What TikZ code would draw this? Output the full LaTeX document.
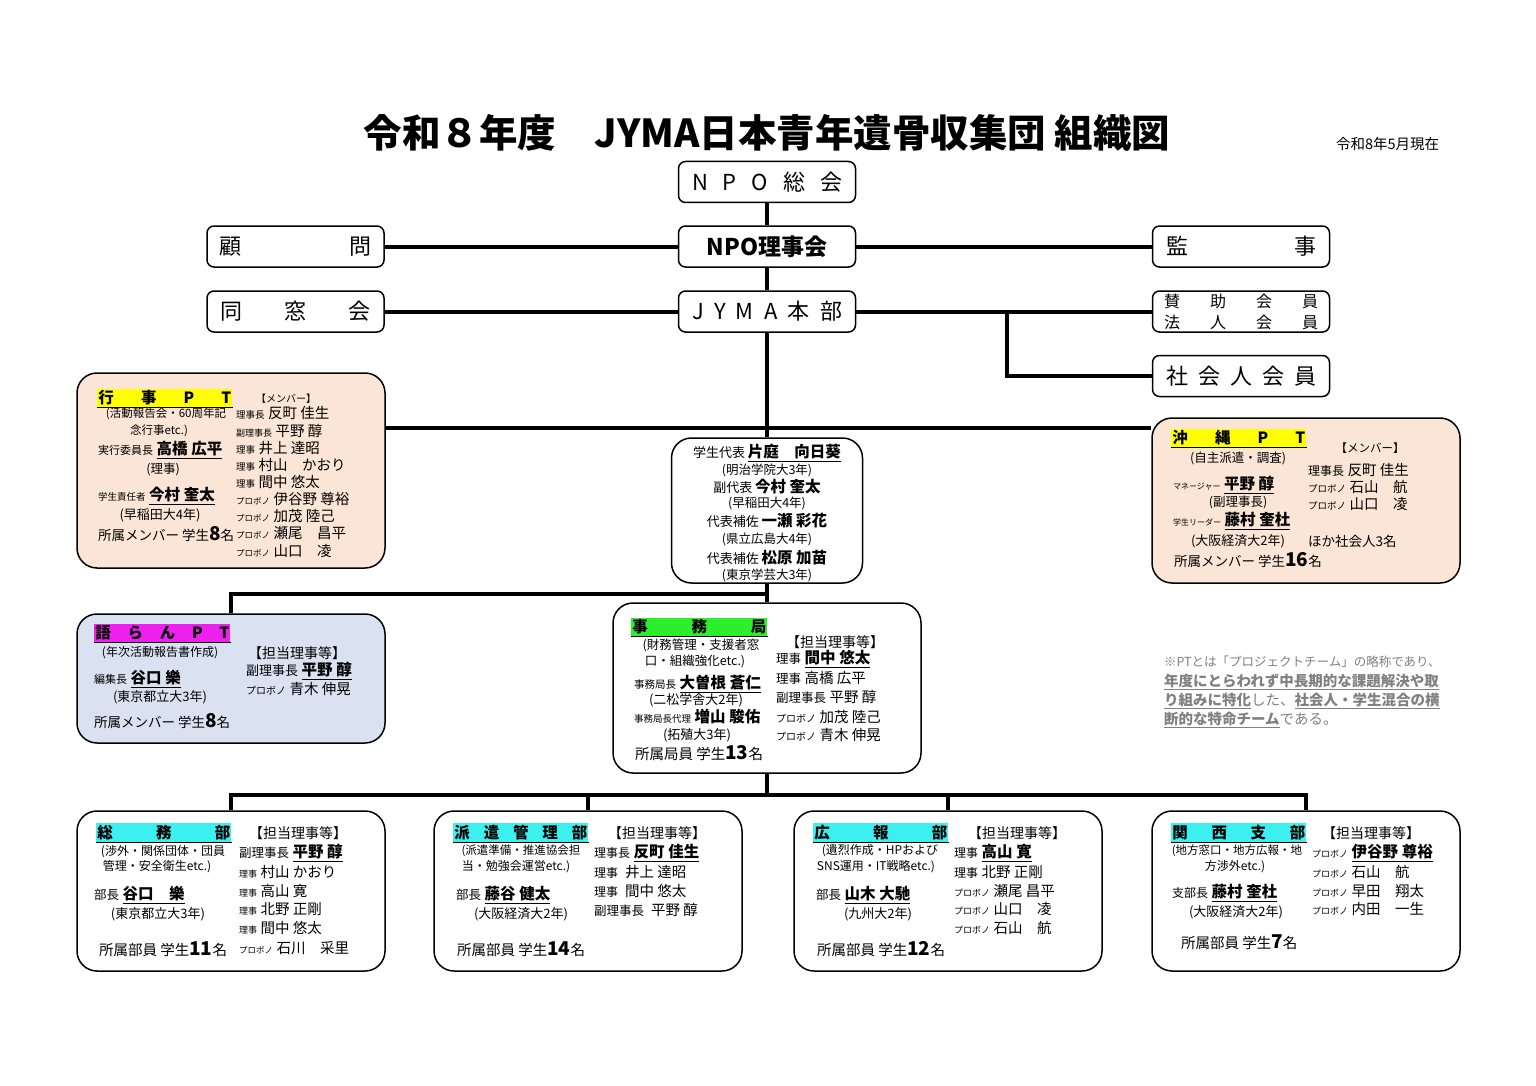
\documentclass[tikz,border=0pt]{standalone}
\usepackage{fontspec}
\setmainfont{Noto Sans CJK JP}

\definecolor{peach}{RGB}{251,229,214}
\definecolor{paleblue}{RGB}{218,225,241}
\definecolor{hlYellow}{RGB}{255,255,0}
\definecolor{hlMagenta}{RGB}{238,32,238}
\definecolor{hlGreen}{RGB}{45,238,45}
\definecolor{hlCyan}{RGB}{60,240,240}
\definecolor{noteGray}{RGB}{128,128,128}

\newcommand\roletxt[2][10]{{\fontsize{#1}{#1}\selectfont #2}}
\newcommand\pname[1]{{\fontsize{14.5}{15}\selectfont #1}}
\newcommand\lname[1]{{\fontsize{15.5}{16}\selectfont\bfseries\underline{#1}}}
\newcommand\bname[1]{{\fontsize{15.5}{16}\selectfont\bfseries #1}}
\newcommand\cntnum[1]{{\fontsize{19}{19}\selectfont\bfseries #1}}

\tikzset{every picture/.style={line width=0.75pt},
  topbox/.style={draw, fill=white, rounded corners=7, line width=1.5pt, minimum width=177, minimum height=41, inner sep=0pt, font=\fontsize{22}{22}\selectfont},
  bigbox/.style={draw, rounded corners=20, line width=1.5pt, inner sep=0pt},
  conn/.style={line width=4pt},
  hdr/.style={anchor=west, inner xsep=1pt, inner ysep=0pt, minimum height=19, font=\fontsize{15.5}{15.5}\selectfont\bfseries,
    append after command={(\tikzlastnode.south west) edge[draw, line width=1pt] (\tikzlastnode.south east)}},
  txt/.style={anchor=west, inner sep=0.75pt, font=\fontsize{16}{16}\selectfont},
  dsc/.style={inner sep=0.75pt, font=\fontsize{12.5}{13}\selectfont},
  cnt/.style={anchor=west, inner sep=0.75pt, font=\fontsize{14.5}{15}\selectfont},
  nte/.style={anchor=west, inner sep=0.75pt, text=noteGray, font=\fontsize{14.5}{15}\selectfont}}

\begin{document}
\begin{tikzpicture}[x=1pt,y=1pt,yscale=-1,xscale=1]
\useasboundingbox (0,0) rectangle (1536,1086);

% Title
\draw (767,133) node (title) [inner sep=0.75pt, font=\fontsize{38.5}{38.5}\selectfont\bfseries] {令和８年度　JYMA日本青年遺骨収集団 組織図};
\draw (1335,144) node (date) [txt, font=\fontsize{14.5}{15}\selectfont] {令和8年5月現在};

%Rounded Rect (top)
\draw (767,182) node (soukai) [topbox] {\hbox to 150pt{N\hfill P\hfill O\hfill 総\hfill 会}};
\draw (295.5,246.5) node (komon) [topbox] {\hbox to 152pt{顧\hfill 問}};
\draw (767,246.5) node (rijikai) [topbox, font=\fontsize{23}{23}\selectfont\bfseries] {NPO理事会};
\draw (1241,246.5) node (kanji) [topbox] {\hbox to 150pt{監\hfill 事}};
\draw (295.5,311.5) node (dousou) [topbox] {\hbox to 150pt{同\hfill 窓\hfill 会}};
\draw (767,311.5) node (honbu) [topbox] {\hbox to 150pt{J\hfill Y\hfill M\hfill A\hfill 本\hfill 部}};
\draw (1241,311.5) node (sanjo) [topbox, align=center, font=\fontsize{16}{21}\selectfont] {\hbox to 154pt{賛\hfill 助\hfill 会\hfill 員}\\\hbox to 154pt{法\hfill 人\hfill 会\hfill 員}};
\draw (1241,376) node (shakai) [topbox] {\hbox to 150pt{社\hfill 会\hfill 人\hfill 会\hfill 員}};

%Rounded Rect (groups)
\draw (231,470.5) node (gyoji) [bigbox, fill=peach, minimum width=308, minimum height=195] {};
\draw (767,510.5) node (gakusei) [bigbox, fill=white, minimum width=191, minimum height=145] {};
\draw (1306,500.5) node (okinawa) [bigbox, fill=peach, minimum width=308, minimum height=165] {};
\draw (231,678.5) node (kataran) [bigbox, fill=paleblue, minimum width=308, minimum height=129] {};
\draw (767,688) node (jimu) [bigbox, fill=white, minimum width=308, minimum height=170] {};
\draw (231,891) node (soumu) [bigbox, fill=white, minimum width=308, minimum height=160] {};
\draw (588,891) node (haken) [bigbox, fill=white, minimum width=308, minimum height=160] {};
\draw (948,891) node (kouhou) [bigbox, fill=white, minimum width=308, minimum height=160] {};
\draw (1306,891) node (kansai) [bigbox, fill=white, minimum width=308, minimum height=160] {};

\coordinate (jr) at (1007,311.5);
\coordinate (j1) at (767,428);
\coordinate (j2) at (767,594);
\coordinate (j3) at (767,795);

%Straight Lines
\draw[conn] (soukai) -- (rijikai);
\draw[conn] (rijikai) -- (honbu);
\draw[conn] (komon) -- (rijikai);
\draw[conn] (rijikai) -- (kanji);
\draw[conn] (dousou) -- (honbu);
\draw[conn] (honbu) -- (sanjo);
\draw[conn] (jr) |- (shakai);
\draw[conn] (honbu) -- (gakusei);
\draw[conn] (gyoji.east |- j1) -- (okinawa.west |- j1);
\draw[conn] (gakusei) -- (jimu);
\draw[conn] (j2) -| (kataran);
\draw[conn] (jimu) -- (j3);
\draw[conn] (j3) -| (soumu);
\draw[conn] (j3) -| (haken);
\draw[conn] (j3) -| (kouhou);
\draw[conn] (j3) -| (kansai);

% Text Node (gyoji PT)
\draw (97,398) node (gy-h) [hdr, fill=hlYellow] {\hbox to 133pt{行\hfill 事\hfill P\hfill T}};
\draw (166,414) node (gy-d1) [dsc, font=\fontsize{11.5}{12}\selectfont] {(活動報告会・60周年記};
\draw (159,431) node (gy-d2) [dsc, font=\fontsize{11.5}{12}\selectfont] {念行事etc.)};
\draw (97,450) node (gy-l1) [txt] {\roletxt[11]{実行委員長} \lname{高橋 広平}};
\draw (163,469) node (gy-d3) [dsc] {(理事)};
\draw (97,496) node (gy-l2) [txt] {\roletxt[9.5]{学生責任者} \lname{今村 奎太}};
\draw (160,515) node (gy-d4) [dsc, font=\fontsize{13}{13}\selectfont] {(早稲田大4年)};
\draw (97,534) node (gy-c) [cnt, font=\fontsize{13.5}{14}\selectfont] {所属メンバー 学生\cntnum{8}名};
\draw (286,399) node (gy-m) [dsc, font=\fontsize{10}{10}\selectfont] {【メンバー】};
\draw (235,413) node (gy-r1) [txt] {\roletxt[9.5]{理事長} \pname{反町 佳生}};
\draw (235,431) node (gy-r2) [txt] {\roletxt[9]{副理事長} \pname{平野 醇}};
\draw (235,448) node (gy-r3) [txt] {\roletxt[9.5]{理事} \pname{井上 達昭}};
\draw (235,465) node (gy-r4) [txt] {\roletxt[9.5]{理事} \pname{村山　かおり}};
\draw (235,482) node (gy-r5) [txt] {\roletxt[9.5]{理事} \pname{間中 悠太}};
\draw (235,499) node (gy-r6) [txt] {\roletxt[8.5]{プロボノ} \pname{伊谷野 尊裕}};
\draw (235,516) node (gy-r7) [txt] {\roletxt[8.5]{プロボノ} \pname{加茂 陸己}};
\draw (235,533) node (gy-r8) [txt] {\roletxt[8.5]{プロボノ} \pname{瀬尾　昌平}};
\draw (235,551) node (gy-r9) [txt] {\roletxt[8.5]{プロボノ} \pname{山口　凌}};

% Text Node (students)
\draw (767,453) node (st1) [dsc] {\roletxt[13]{学生代表} \lname{片庭　向日葵}};
\draw (767,470) node (st2) [dsc] {(明治学院大3年)};
\draw (767,487) node (st3) [dsc] {\roletxt[13]{副代表} \bname{今村 奎太}};
\draw (767,503) node (st4) [dsc] {(早稲田大4年)};
\draw (767,521) node (st5) [dsc] {\roletxt[13]{代表補佐} \bname{一瀬 彩花}};
\draw (767,539) node (st6) [dsc] {(県立広島大4年)};
\draw (767,558) node (st7) [dsc] {\roletxt[13]{代表補佐} \bname{松原 加苗}};
\draw (767,575) node (st8) [dsc] {(東京学芸大3年)};

% Text Node (okinawa PT)
\draw (1171,438) node (ok-h) [hdr, fill=hlYellow] {\hbox to 133pt{沖\hfill 縄\hfill P\hfill T}};
\draw (1238,458) node (ok-d1) [dsc] {(自主派遣・調査)};
\draw (1172,485) node (ok-l1) [txt] {\roletxt[8]{マネージャー} \lname{平野 醇}};
\draw (1238,502) node (ok-d2) [dsc] {(副理事長)};
\draw (1172,521) node (ok-l2) [txt] {\roletxt[8]{学生リーダー} \lname{藤村 奎杜}};
\draw (1238,541) node (ok-d3) [dsc, font=\fontsize{13}{13}\selectfont] {(大阪経済大2年)};
\draw (1173,560) node (ok-c) [cnt, font=\fontsize{13.5}{14}\selectfont] {所属メンバー 学生\cntnum{16}名};
\draw (1370,448) node (ok-m) [dsc, font=\fontsize{11.5}{12}\selectfont] {【メンバー】};
\draw (1307,470) node (ok-r1) [txt] {\roletxt[12]{理事長} \pname{反町 佳生}};
\draw (1307,487) node (ok-r2) [txt] {\roletxt[9.5]{プロボノ} \pname{石山　航}};
\draw (1307,504) node (ok-r3) [txt] {\roletxt[9.5]{プロボノ} \pname{山口　凌}};
\draw (1307,541) node (ok-r4) [txt, font=\fontsize{13.5}{14}\selectfont] {ほか社会人3名};

% Text Node (kataran PT)
\draw (94,633) node (kt-h) [hdr, fill=hlMagenta] {\hbox to 134pt{語\hfill ら\hfill ん\hfill P\hfill T}};
\draw (160,653) node (kt-d1) [dsc, font=\fontsize{12}{12}\selectfont] {(年次活動報告書作成)};
\draw (93,679) node (kt-l1) [txt] {\roletxt[11]{編集長} \lname{谷口 樂}};
\draw (160,697) node (kt-d2) [dsc, font=\fontsize{13}{13}\selectfont] {(東京都立大3年)};
\draw (93,721) node (kt-c) [cnt, font=\fontsize{13.5}{14}\selectfont] {所属メンバー 学生\cntnum{8}名};
\draw (297,653) node (kt-m) [dsc, font=\fontsize{14}{14}\selectfont] {【担当理事等】};
\draw (245,671) node (kt-r1) [txt] {\roletxt[13]{副理事長} \lname{平野 醇}};
\draw (245,689) node (kt-r2) [txt] {\roletxt[10]{プロボノ} \pname{青木 伸晃}};

% Text Node (jimukyoku)
\draw (631,627) node (jm-h) [hdr, fill=hlGreen] {\hbox to 134pt{事\hfill 務\hfill 局}};
\draw (701,645) node (jm-d1) [dsc] {(財務管理・支援者窓};
\draw (695,661) node (jm-d2) [dsc] {口・組織強化etc.)};
\draw (633,684) node (jm-l1) [txt] {\roletxt[10.5]{事務局長} \lname{大曽根 蒼仁}};
\draw (696,700) node (jm-d3) [dsc, font=\fontsize{13}{13}\selectfont] {(二松学舎大2年)};
\draw (633,717) node (jm-l2) [txt] {\roletxt[9.5]{事務局長代理} \bname{増山 駿佑}};
\draw (697,735) node (jm-d4) [dsc, font=\fontsize{13}{13}\selectfont] {(拓殖大3年)};
\draw (634,753) node (jm-c) [cnt] {所属局員 学生\cntnum{13}名};
\draw (835,642) node (jm-m) [dsc, font=\fontsize{14}{14}\selectfont] {【担当理事等】};
\draw (775,659) node (jm-r1) [txt] {\roletxt[12.5]{理事} \lname{間中 悠太}};
\draw (775,678) node (jm-r2) [txt] {\roletxt[12.5]{理事} \pname{高橋 広平}};
\draw (775,697) node (jm-r3) [txt] {\roletxt[12.5]{副理事長} \pname{平野 醇}};
\draw (775,717) node (jm-r4) [txt] {\roletxt[10]{プロボノ} \pname{加茂 陸己}};
\draw (775,735) node (jm-r5) [txt] {\roletxt[10]{プロボノ} \pname{青木 伸晃}};

% Text Node (note)
\draw (1163,662) node (nt1) [nte, font=\fontsize{12.5}{13}\selectfont] {※PTとは「プロジェクトチーム」の略称であり、};
\draw (1163,682) node (nt2) [nte] {\bfseries\underline{年度にとらわれず中長期的な課題解決や取}};
\draw (1163,701) node (nt3) [nte] {\underline{\bfseries り組みに特化}した、\underline{\bfseries 社会人・学生混合の横}};
\draw (1163,720) node (nt4) [nte] {\underline{\bfseries 断的な特命チーム}である。};

% Text Node (soumu)
\draw (96,832.5) node (sm-h) [hdr, fill=hlCyan] {\hbox to 133pt{総\hfill 務\hfill 部}};
\draw (163,852) node (sm-d1) [dsc, font=\fontsize{12}{12}\selectfont] {(渉外・関係団体・団員};
\draw (157,867) node (sm-d2) [dsc, font=\fontsize{12}{12}\selectfont] {管理・安全衛生etc.)};
\draw (93,895) node (sm-l1) [txt] {\roletxt[12.5]{部長} \lname{谷口　樂}};
\draw (158,914) node (sm-d3) [dsc, font=\fontsize{13}{13}\selectfont] {(東京都立大3年)};
\draw (98,949) node (sm-c) [cnt] {所属部員 学生\cntnum{11}名};
\draw (298,833) node (sm-m) [dsc, font=\fontsize{14}{14}\selectfont] {【担当理事等】};
\draw (238,853) node (sm-r1) [txt] {\roletxt[12.5]{副理事長} \lname{平野 醇}};
\draw (238,872) node (sm-r2) [txt] {\roletxt[9]{理事} \pname{村山 かおり}};
\draw (238,891) node (sm-r3) [txt] {\roletxt[9]{理事} \pname{高山 寛}};
\draw (238,909) node (sm-r4) [txt] {\roletxt[9]{理事} \pname{北野 正剛}};
\draw (238,928) node (sm-r5) [txt] {\roletxt[9]{理事} \pname{間中 悠太}};
\draw (238,948) node (sm-r6) [txt] {\roletxt[8.5]{プロボノ} \pname{石川　采里}};

% Text Node (haken)
\draw (453,832.5) node (hk-h) [hdr, fill=hlCyan] {\hbox to 133pt{派\hfill 遣\hfill 管\hfill 理\hfill 部}};
\draw (521,851) node (hk-d1) [dsc, font=\fontsize{11.5}{12}\selectfont] {(派遣準備・推進協会担};
\draw (516,867) node (hk-d2) [dsc, font=\fontsize{12}{12}\selectfont] {当・勉強会運営etc.)};
\draw (455,895) node (hk-l1) [txt] {\roletxt[12.5]{部長} \lname{藤谷 健太}};
\draw (521,914) node (hk-d3) [dsc, font=\fontsize{13}{13}\selectfont] {(大阪経済大2年)};
\draw (456,949) node (hk-c) [cnt] {所属部員 学生\cntnum{14}名};
\draw (657,833) node (hk-m) [dsc, font=\fontsize{14}{14}\selectfont] {【担当理事等】};
\draw (593,853) node (hk-r1) [txt] {\roletxt[12]{理事長} \lname{反町 佳生}};
\draw (593,872) node (hk-r2) [txt] {\roletxt[12]{理事}\hspace{7pt}\pname{井上 達昭}};
\draw (593,891) node (hk-r3) [txt] {\roletxt[12]{理事}\hspace{7pt}\pname{間中 悠太}};
\draw (593,910) node (hk-r4) [txt] {\roletxt[12.5]{副理事長}\hspace{7pt}\pname{平野 醇}};

% Text Node (kouhou)
\draw (813,832.5) node (kh-h) [hdr, fill=hlCyan] {\hbox to 133pt{広\hfill 報\hfill 部}};
\draw (880,851) node (kh-d1) [dsc, font=\fontsize{12}{12}\selectfont] {(遺烈作成・HPおよび};
\draw (876,867) node (kh-d2) [dsc, font=\fontsize{12}{12}\selectfont] {SNS運用・IT戦略etc.)};
\draw (815,895) node (kh-l1) [txt] {\roletxt[12.5]{部長} \lname{山木 大馳}};
\draw (878,914) node (kh-d3) [dsc, font=\fontsize{13}{13}\selectfont] {(九州大2年)};
\draw (816,949) node (kh-c) [cnt] {所属部員 学生\cntnum{12}名};
\draw (1017,833) node (kh-m) [dsc, font=\fontsize{14}{14}\selectfont] {【担当理事等】};
\draw (953,853) node (kh-r1) [txt] {\roletxt[12]{理事} \lname{高山 寛}};
\draw (953,872) node (kh-r2) [txt] {\roletxt[12]{理事} \pname{北野 正剛}};
\draw (953,891) node (kh-r3) [txt] {\roletxt[9]{プロボノ} \pname{瀬尾 昌平}};
\draw (953,909) node (kh-r4) [txt] {\roletxt[9]{プロボノ} \pname{山口　凌}};
\draw (953,928) node (kh-r5) [txt] {\roletxt[9]{プロボノ} \pname{石山　航}};

% Text Node (kansai)
\draw (1171,832.5) node (ks-h) [hdr, fill=hlCyan] {\hbox to 133pt{関\hfill 西\hfill 支\hfill 部}};
\draw (1237,851) node (ks-d1) [dsc, font=\fontsize{11.5}{12}\selectfont] {(地方窓口・地方広報・地};
\draw (1235,867) node (ks-d2) [dsc, font=\fontsize{12}{12}\selectfont] {方渉外etc.)};
\draw (1171,893) node (ks-l1) [txt] {\roletxt[12]{支部長} \lname{藤村 奎杜}};
\draw (1236,912) node (ks-d3) [dsc, font=\fontsize{13}{13}\selectfont] {(大阪経済大2年)};
\draw (1180,942) node (ks-c) [cnt] {所属部員 学生\cntnum{7}名};
\draw (1371,833) node (ks-m) [dsc, font=\fontsize{14}{14}\selectfont] {【担当理事等】};
\draw (1311,853) node (ks-r1) [txt] {\roletxt[9]{プロボノ} \lname{伊谷野 尊裕}};
\draw (1311,872) node (ks-r2) [txt] {\roletxt[9]{プロボノ} \pname{石山　航}};
\draw (1311,891) node (ks-r3) [txt] {\roletxt[9]{プロボノ} \pname{早田　翔太}};
\draw (1311,909) node (ks-r4) [txt] {\roletxt[9]{プロボノ} \pname{内田　一生}};

\end{tikzpicture}
\end{document}
